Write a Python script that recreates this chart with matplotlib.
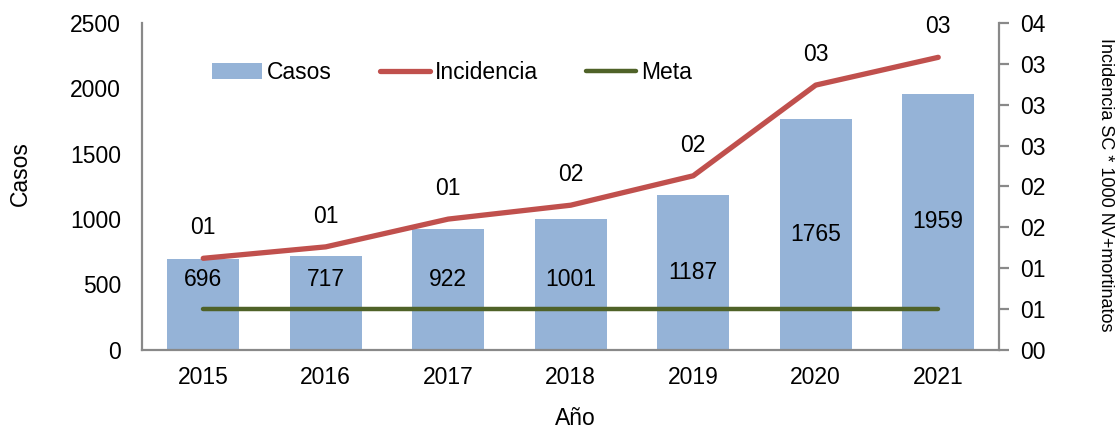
import numpy as np
import matplotlib
matplotlib.use('Agg')
import matplotlib.pyplot as plt

years = ['2015', '2016', '2017', '2018', '2019', '2020', '2021']
casos = [696, 717, 922, 1001, 1187, 1765, 1959]
incidencia = [1.12, 1.26, 1.60, 1.77, 2.13, 3.24, 3.58]
incidencia_labels = ['01', '01', '01', '02', '02', '03', '03']
meta = [0.5, 0.5, 0.5, 0.5, 0.5, 0.5, 0.5]
right_ticks = [0, 0.5, 1, 1.5, 2, 2.5, 3, 3.5, 4]
right_tick_labels = ['00', '01', '01', '02', '02', '03', '03', '03', '04']

plt.rcParams['font.family'] = ['Liberation Sans', 'DejaVu Sans']
plt.rcParams['font.size'] = 16.5

bar_color = '#95B3D7'
red = '#C0504D'
green = '#4F6228'
spine_color = '#898989'

fig = plt.figure(figsize=(11.18, 4.34), dpi=100)
ax = fig.add_axes([0.127, 0.194, 0.767, 0.753])
ax2 = ax.twinx()

x = np.arange(len(years))
bars = ax.bar(x, casos, width=0.59, color=bar_color, label='Casos', zorder=1)
for xi, v in zip(x, casos):
    ax.text(xi, max(v / 2, 540), str(v), ha='center', va='center', fontsize=16.5)

ax2.plot(x, incidencia, color=red, lw=3.8, solid_capstyle='round', label='Incidencia')
ax2.plot(x, meta, color=green, lw=3.2, solid_capstyle='round', label='Meta')
for xi, v, lab in zip(x, incidencia, incidencia_labels):
    ax2.annotate(lab, (xi, v), xytext=(0, 22), textcoords='offset points',
                 ha='center', va='center', fontsize=16.5)

ax.set_xlim(-0.5, len(years) - 0.5)
ax.set_ylim(0, 2500)
ax.set_yticks(np.arange(0, 2501, 500))
ax.set_xticks(x)
ax.set_xticklabels(years)
ax2.set_ylim(0, 4)
ax2.set_yticks(right_ticks)
ax2.set_yticklabels(right_tick_labels)

for a in (ax, ax2):
    a.spines['top'].set_visible(False)
    for s in ('left', 'right', 'bottom'):
        a.spines[s].set_color(spine_color)
        a.spines[s].set_linewidth(1.6)
ax.spines['right'].set_visible(False)
ax2.spines['left'].set_visible(False)
ax2.spines['bottom'].set_visible(False)

ax.tick_params(axis='y', length=0, pad=15)
ax.tick_params(axis='x', length=0, pad=12)
ax2.tick_params(axis='y', length=7, width=1.6, color=spine_color, pad=8)

fig.text(0.018, 0.60, 'Casos', rotation=90, ha='center', va='center', fontsize=16.5)
fig.text(0.515, 0.035, 'Año', ha='center', va='center', fontsize=16.5)
fig.text(0.989, 0.574, 'Incidencia SC * 1000 NV+mortinatos', rotation=-90,
         ha='center', va='center', fontsize=13)

handles = [bars] + ax2.get_lines()
fig.legend(handles, ['Casos', 'Incidencia', 'Meta'], loc='center', ncol=3,
           bbox_to_anchor=(0.404, 0.834), frameon=False, handlelength=2.2,
           handletextpad=0.2, columnspacing=2.1, fontsize=16.5)

fig.savefig('out.png', dpi=100)
